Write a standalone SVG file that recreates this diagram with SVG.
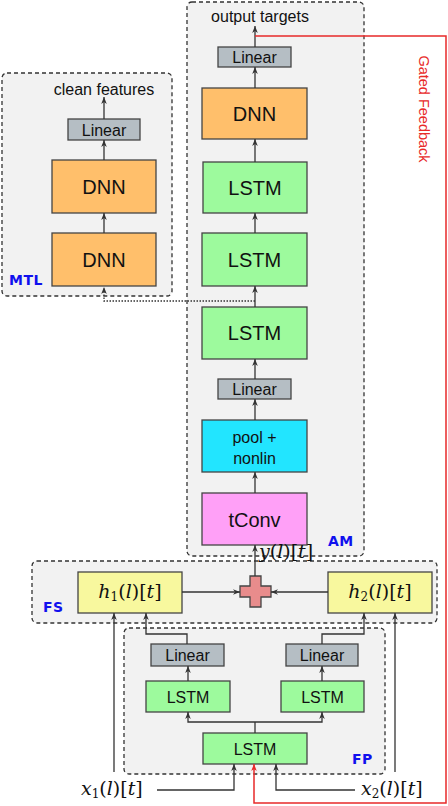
<svg xmlns="http://www.w3.org/2000/svg" width="448" height="806" viewBox="0 0 448 806">
<defs>
<marker id="ah" viewBox="0 0 10 10" refX="10" refY="5" markerWidth="7" markerHeight="7" orient="auto" markerUnits="userSpaceOnUse">
<path d="M0,1 L10,5 L0,9 L3,5 Z" fill="#333"/>
</marker>
<marker id="ahr" viewBox="0 0 10 10" refX="10" refY="5" markerWidth="7" markerHeight="7" orient="auto" markerUnits="userSpaceOnUse">
<path d="M0,1 L10,5 L0,9 L3,5 Z" fill="#E82A2A"/>
</marker>
<style>
.grp{fill:#F2F2F2;stroke:#333;stroke-width:1.3;stroke-dasharray:4,3}
.n{stroke:#444;stroke-width:1.3}
.lin{fill:#B5BEC4}
.dnn{fill:#FFBF6B}
.lstm{fill:#9DFA9D}
.pool{fill:#22E5FF}
.conv{fill:#FFA0F7}
.h{fill:#F8F89E}
.t{font-family:"Liberation Sans",Arial,sans-serif;fill:#111;text-anchor:middle}
.big{font-size:20px}
.sm{font-size:16px}
.lab{font-family:"DejaVu Sans",sans-serif;font-weight:bold;fill:#1010EE;font-size:14px;letter-spacing:0.5px}
.m{font-family:"DejaVu Serif","Liberation Serif",serif;font-size:19px;fill:#111}
.c{fill:none;stroke:#333;stroke-width:1.3}
.a{marker-end:url(#ah)}
</style>
</defs>

<!-- group boxes -->
<g id="MTL">
<rect class="grp" x="2" y="73" width="170" height="223" rx="5"/>
<text class="lab" x="9" y="285">MTL</text>
</g>
<g id="AM">
<rect class="grp" x="187" y="2" width="177" height="554" rx="5"/>
<text class="lab" x="328" y="546">AM</text>
</g>
<g id="FS">
<rect class="grp" x="32" y="561" width="405" height="62" rx="5"/>
<text class="lab" x="43" y="612">FS</text>
</g>
<g id="FP">
<rect class="grp" x="124" y="628" width="261" height="146" rx="5"/>
<text class="lab" x="352" y="764">FP</text>
</g>

<!-- MTL nodes -->
<g id="mtl_linear"><rect class="n lin" x="68" y="119" width="72" height="21"/><text class="t sm" x="104" y="135.5">Linear</text></g>
<g id="mtl_dnn1"><rect class="n dnn" x="52" y="160" width="104" height="53"/><text class="t big" x="104" y="193.5">DNN</text></g>
<g id="mtl_dnn2"><rect class="n dnn" x="52" y="233" width="104" height="53"/><text class="t big" x="104" y="266.5">DNN</text></g>
<g id="clean_features"><text class="t" style="font-size:16px" x="104" y="95">clean features</text></g>

<!-- AM nodes -->
<g id="output_targets"><text class="t" style="font-size:16px" x="260" y="22">output targets</text></g>
<g id="am_linear_top"><rect class="n lin" x="218" y="47" width="73" height="20"/><text class="t sm" x="254.5" y="63">Linear</text></g>
<g id="am_dnn"><rect class="n dnn" x="202" y="88" width="105" height="51"/><text class="t big" x="254.5" y="120.5">DNN</text></g>
<g id="am_lstm1"><rect class="n lstm" x="203" y="162" width="104" height="51"/><text class="t big" x="255" y="194.5">LSTM</text></g>
<g id="am_lstm2"><rect class="n lstm" x="202" y="233" width="105" height="53"/><text class="t big" x="254.5" y="266.5">LSTM</text></g>
<g id="am_lstm3"><rect class="n lstm" x="202" y="307" width="105" height="52"/><text class="t big" x="254.5" y="340">LSTM</text></g>
<g id="am_linear_bot"><rect class="n lin" x="218" y="379" width="73" height="20"/><text class="t sm" x="254.5" y="395">Linear</text></g>
<g id="am_pool"><rect class="n pool" x="202" y="420" width="105" height="52"/><text class="t sm" x="254.5" y="443">pool +</text><text class="t sm" x="254.5" y="464">nonlin</text></g>
<g id="am_tconv"><rect class="n conv" x="202" y="493" width="105" height="52"/><text class="t big" x="254.5" y="526.5">tConv</text></g>

<!-- FS nodes -->
<g id="h1"><rect class="n h" x="78" y="572" width="104" height="41"/><text class="m" x="130" y="598" text-anchor="middle"><tspan font-style="italic">h</tspan><tspan font-size="12" dy="3">1</tspan><tspan dy="-3">(</tspan><tspan font-style="italic">l</tspan><tspan>)[</tspan><tspan font-style="italic">t</tspan><tspan>]</tspan></text></g>
<g id="h2"><rect class="n h" x="328" y="572" width="104" height="41"/><text class="m" x="380" y="598" text-anchor="middle"><tspan font-style="italic">h</tspan><tspan font-size="12" dy="3">2</tspan><tspan dy="-3">(</tspan><tspan font-style="italic">l</tspan><tspan>)[</tspan><tspan font-style="italic">t</tspan><tspan>]</tspan></text></g>
<g id="plus"><path class="n" fill="#E88C8C" d="M250,576 H261 V586 H271 V597 H261 V607 H250 V597 H240 V586 H250 Z"/></g>
<g id="y_label"><text class="m" x="259" y="558"><tspan font-style="italic">y</tspan>(<tspan font-style="italic">l</tspan>)[<tspan font-style="italic">t</tspan>]</text></g>

<!-- FP nodes -->
<g id="fp_linear_l"><rect class="n lin" x="151" y="644" width="73" height="22"/><text class="t sm" x="187.5" y="660.5">Linear</text></g>
<g id="fp_linear_r"><rect class="n lin" x="286" y="644" width="72" height="22"/><text class="t sm" x="322" y="660.5">Linear</text></g>
<g id="fp_lstm_l"><rect class="n lstm" x="146" y="681" width="84" height="31"/><text class="t sm" x="188" y="702.5">LSTM</text></g>
<g id="fp_lstm_r"><rect class="n lstm" x="281" y="681" width="83" height="31"/><text class="t sm" x="322.5" y="702.5">LSTM</text></g>
<g id="fp_lstm_b"><rect class="n lstm" x="203" y="733" width="104" height="31"/><text class="t sm" x="255" y="754.5">LSTM</text></g>

<!-- inputs -->
<g id="x1"><text class="m" x="81" y="795"><tspan font-style="italic">x</tspan><tspan font-size="12" dy="3">1</tspan><tspan dy="-3">(</tspan><tspan font-style="italic">l</tspan>)[<tspan font-style="italic">t</tspan>]</text></g>
<g id="x2"><text class="m" x="361" y="795"><tspan font-style="italic">x</tspan><tspan font-size="12" dy="3">2</tspan><tspan dy="-3">(</tspan><tspan font-style="italic">l</tspan>)[<tspan font-style="italic">t</tspan>]</text></g>

<!-- Gated feedback label -->
<g id="gated_feedback"><text transform="translate(419,109) rotate(90)" style="font-family:'Liberation Sans',Arial,sans-serif;font-size:14.5px;fill:#E82A2A;text-anchor:middle">Gated Feedback</text></g>

<!-- connectors -->
<g id="connectors">
<!-- MTL -->
<line class="c a" x1="104" y1="119" x2="104" y2="97"/>
<line class="c a" x1="104" y1="160" x2="104" y2="140"/>
<line class="c a" x1="104" y1="233" x2="104" y2="213"/>
<polyline fill="none" stroke="#333" stroke-width="1.3" stroke-dasharray="1.5,1.5" points="255,301 104,301 104,287" marker-end="url(#ah)"/>
<!-- AM -->
<line class="c a" x1="255" y1="47" x2="255" y2="26"/>
<line class="c a" x1="255" y1="88" x2="255" y2="67"/>
<line class="c a" x1="255" y1="162" x2="255" y2="139"/>
<line class="c a" x1="255" y1="233" x2="255" y2="213"/>
<line class="c a" x1="255" y1="307" x2="255" y2="286"/>
<line class="c a" x1="255" y1="379" x2="255" y2="359"/>
<line class="c a" x1="255" y1="420" x2="255" y2="399"/>
<line class="c a" x1="255" y1="493" x2="255" y2="472"/>
<line class="c a" x1="255" y1="576" x2="255" y2="545"/>
<!-- FS -->
<line class="c a" x1="182" y1="592" x2="240" y2="592"/>
<line class="c a" x1="328" y1="592" x2="271" y2="592"/>
<line class="c a" x1="114" y1="772" x2="114" y2="613"/>
<polyline class="c a" points="187,644 187,634 146,634 146,613"/>
<polyline class="c a" points="322,644 322,634 364,634 364,613"/>
<line class="c a" x1="395" y1="772" x2="395" y2="613"/>
<!-- FP -->
<line class="c a" x1="188" y1="681" x2="188" y2="666"/>
<line class="c a" x1="322" y1="681" x2="322" y2="666"/>
<polyline class="c" points="255,733 255,722"/>
<polyline class="c a" points="255,722 188,722 188,712"/>
<polyline class="c a" points="255,722 322,722 322,712"/>
<polyline class="c a" points="157,790 234,790 234,764"/>
<polyline class="c a" points="355,790 276,790 276,764"/>
<!-- gated feedback -->
<polyline fill="none" stroke="#E82A2A" stroke-width="1.5" points="255,36 446,36 446,803 254,803 254,764" marker-end="url(#ahr)"/>
</g>
</svg>
